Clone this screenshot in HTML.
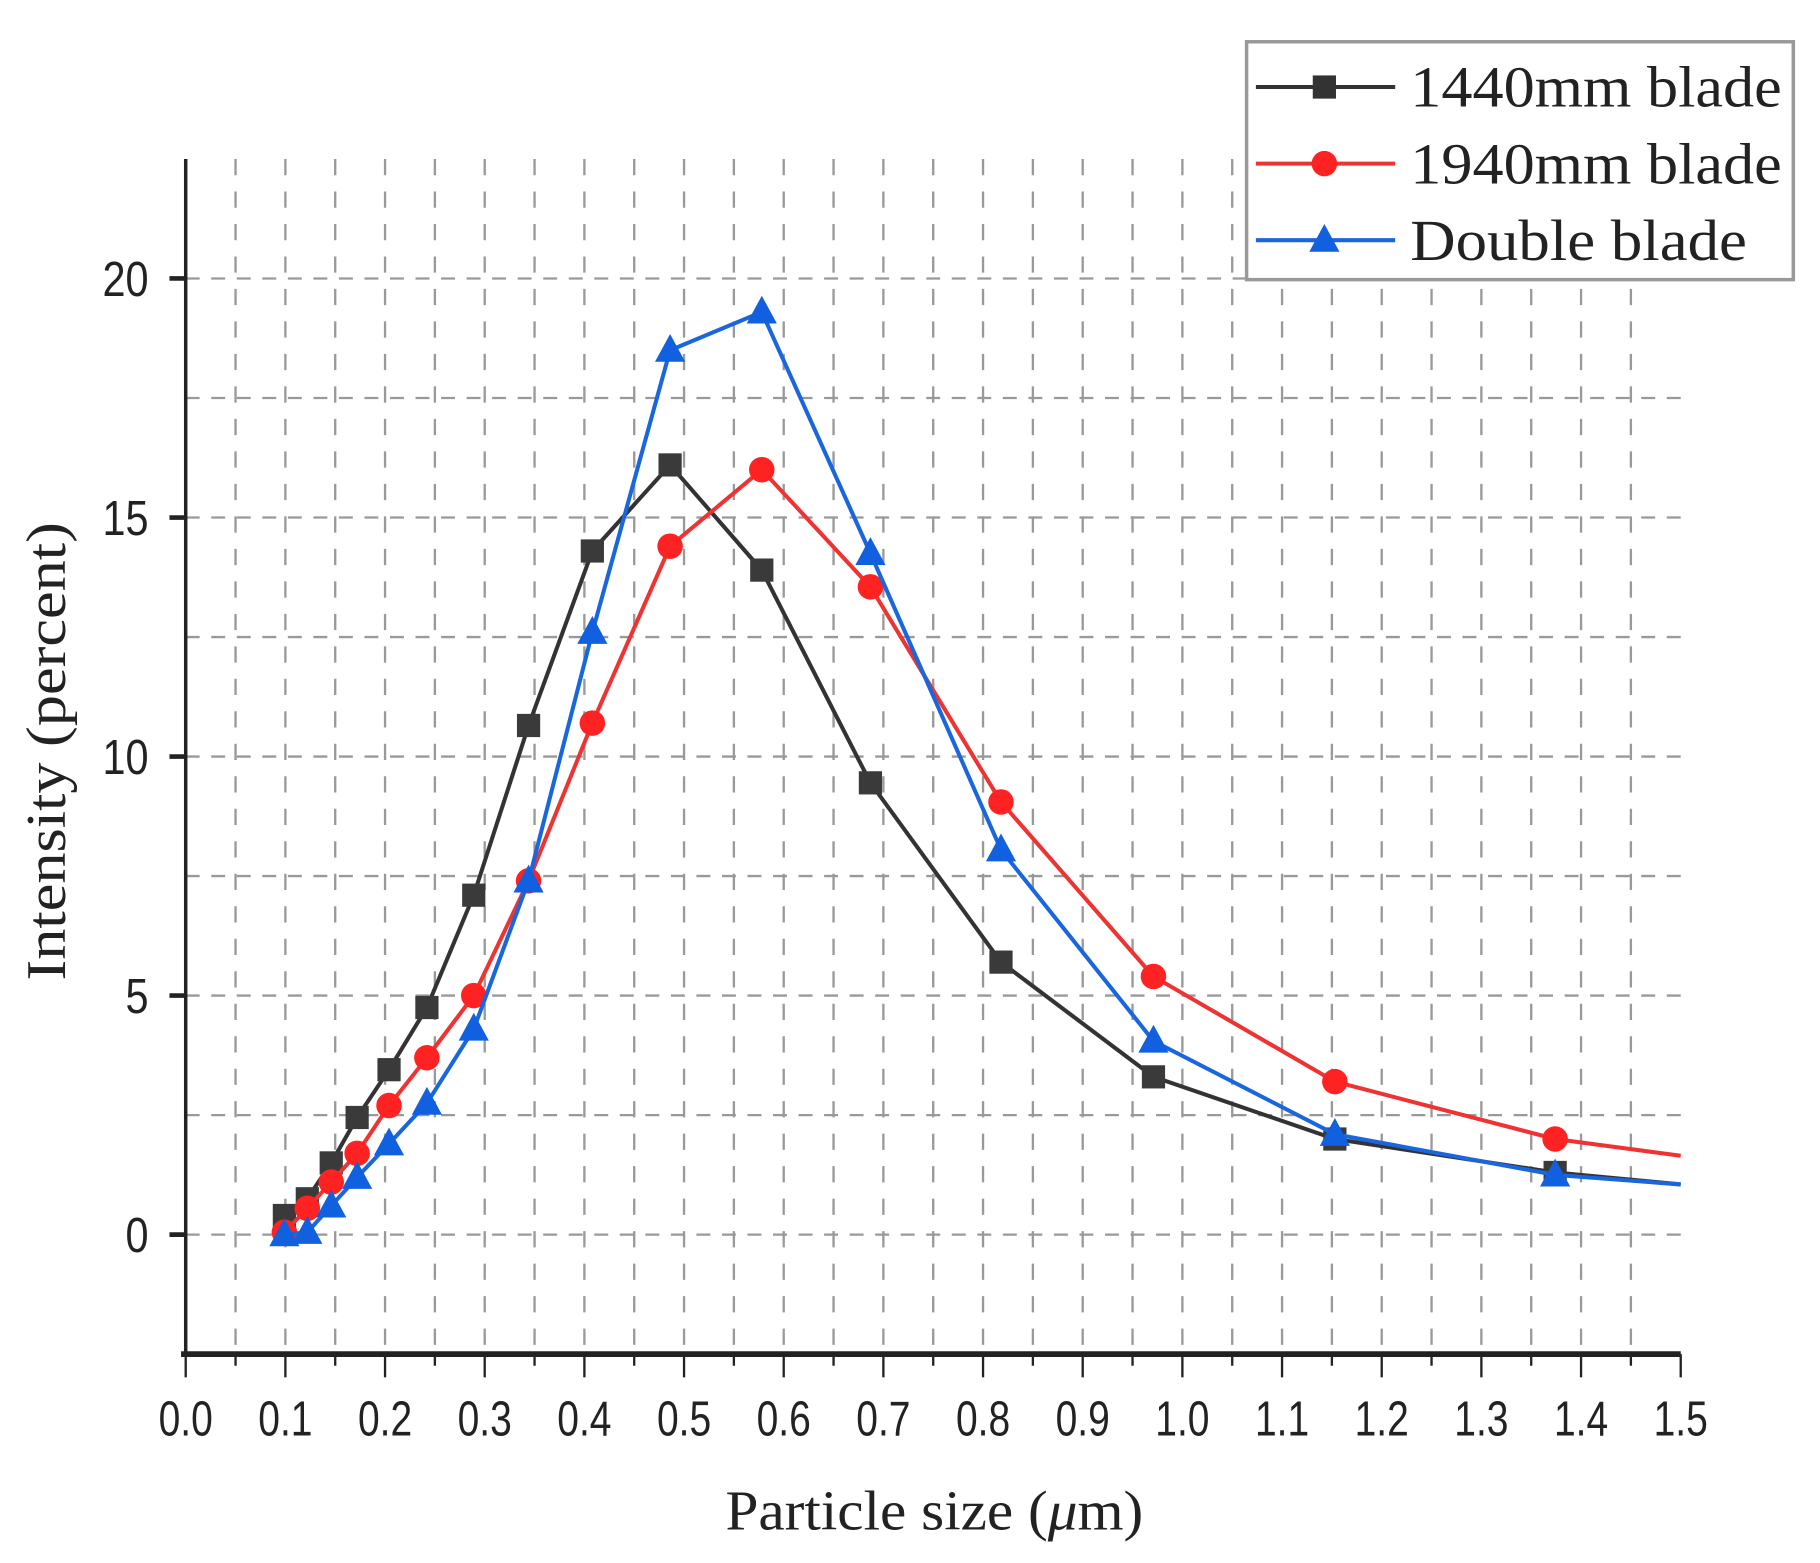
<!DOCTYPE html>
<html><head><meta charset="utf-8"><style>
html,body{margin:0;padding:0;background:#fff;width:1820px;height:1563px;overflow:hidden}
svg{display:block}
</style></head><body>
<svg id="chart" width="1820" height="1563" viewBox="0 0 1568 1347" preserveAspectRatio="none" xmlns="http://www.w3.org/2000/svg">
<g id="grid"></g>
<g id="axes"></g>
<g id="series"></g>
<text x="625" y="1318" textLength="360" lengthAdjust="spacingAndGlyphs" font-family="Liberation Serif, serif" font-size="48" fill="#222">Particle size (<tspan font-style="italic">μ</tspan>m)</text>
<text transform="translate(56,845) rotate(-90)" textLength="395" lengthAdjust="spacingAndGlyphs" font-family="Liberation Serif, serif" font-size="48" fill="#222">Intensity (percent)</text>
<g>
<rect x="1074" y="36" width="471" height="205" fill="#fff" stroke="#999" stroke-width="3"/>
<g>
<line x1="1082" y1="75" x2="1202" y2="75" stroke="#333" stroke-width="3.5"/>
<rect x="1131" y="65" width="20" height="20" fill="#333"/>
<text x="1215" y="92" textLength="320" lengthAdjust="spacingAndGlyphs" font-family="Liberation Serif, serif" font-size="50" fill="#222">1440mm blade</text></g>
<g>
<line x1="1082" y1="141" x2="1202" y2="141" stroke="#e33" stroke-width="3.5"/>
<circle cx="1141" cy="141" r="11" fill="#f22"/>
<text x="1215" y="158" textLength="320" lengthAdjust="spacingAndGlyphs" font-family="Liberation Serif, serif" font-size="50" fill="#222">1940mm blade</text></g>
<g>
<line x1="1082" y1="207" x2="1202" y2="207" stroke="#1a66dd" stroke-width="3.5"/>
<polygon points="1141,193 1154,217 1128,217" fill="#1060e0"/>
<text x="1215" y="224" textLength="290" lengthAdjust="spacingAndGlyphs" font-family="Liberation Serif, serif" font-size="50" fill="#222">Double blade</text></g>
</g>
</svg>
<script>
const xs = [0.099,0.122,0.146,0.172,0.204,0.242,0.289,0.344,0.408,0.486,0.578,0.687,0.818,0.971,1.153,1.374,1.5];
const s1440 = [0.4,0.75,1.5,2.45,3.45,4.75,7.1,10.65,14.3,16.1,13.9,9.45,5.7,3.3,2.0,1.3,1.05];
const s1940 = [0.05,0.55,1.1,1.7,2.7,3.7,5.0,7.4,10.7,14.4,16.0,13.55,9.05,5.4,3.2,2.0,1.65];
const sDouble = [0.0,0.05,0.6,1.2,1.9,2.75,4.3,7.4,12.6,18.5,19.3,14.25,8.05,4.05,2.1,1.25,1.05];
const xTicks = ["0.0","0.1","0.2","0.3","0.4","0.5","0.6","0.7","0.8","0.9","1.0","1.1","1.2","1.3","1.4","1.5"];
const yTicks = [0,5,10,15,20];

const NS="http://www.w3.org/2000/svg";
const X0=160,X1=1448,Y0=1064,YPU=41.2;
const sx=v=>X0+(v/1.5)*(X1-X0);
const sy=v=>Y0-v*YPU;
function mk(tag,attrs,parent){const e=document.createElementNS(NS,tag);for(const k in attrs)e.setAttribute(k,attrs[k]);parent.appendChild(e);return e;}
const grid=document.getElementById('grid'),axes=document.getElementById('axes'),ser=document.getElementById('series');
for(let i=1;i<30;i++){const x=sx(i*0.05);
 const l=mk('line',{x1:x,y1:sy(22.5),x2:x,y2:sy(-2.5),stroke:'#999','stroke-width':2,'stroke-dasharray':'14 14'},grid);
 
 }
for(let i=-1;i<=9;i++){if(i===9)continue;const y=sy(i*2.5);
 const l=mk('line',{x1:X0,y1:y,x2:X1,y2:y,stroke:'#999','stroke-width':2,'stroke-dasharray':'12 10'},grid);
 
 }
const ya=mk('line',{x1:X0,y1:sy(22.5),x2:X0,y2:sy(-2.5)+2,stroke:'#222','stroke-width':3},axes);


const xa=mk('line',{x1:X0-4,y1:sy(-2.5),x2:X1,y2:sy(-2.5),stroke:'#222','stroke-width':5},axes);


for(let i=0;i<=30;i++){const x=sx(i*0.05);mk('line',{x1:x,y1:sy(-2.5),x2:x,y2:sy(-2.5)+(i%2?10:20),stroke:'#222','stroke-width':2},axes);}
xTicks.forEach((t,i)=>{const e=mk('text',{x:sx(i*0.1),y:1237,'text-anchor':'middle','font-family':'Liberation Sans, sans-serif','font-size':42,fill:'#222',transform:`translate(${sx(i*0.1)},0) scale(0.8,1) translate(${-sx(i*0.1)},0)`},axes);e.textContent=t;
 
 });
yTicks.forEach(v=>{mk('line',{x1:X0-14,y1:sy(v),x2:X0,y2:sy(v),stroke:'#222','stroke-width':4},axes);
 const e=mk('text',{x:128,y:sy(v)+15,'text-anchor':'end','font-family':'Liberation Sans, sans-serif','font-size':42,fill:'#222',transform:`translate(128,0) scale(0.85,1) translate(-128,0)`},axes);e.textContent=v;
 
 });
function draw(vals,color,marker,name){
 const g=mk('g',{},ser);
 
 
 mk('polyline',{points:vals.map((v,i)=>sx(xs[i])+','+sy(v)).join(' '),fill:'none',stroke:color,'stroke-width':3.5},g);
 vals.forEach((v,i)=>{if(i===vals.length-1)return;const x=sx(xs[i]),y=sy(v);let m;
  if(marker==='sq')m=mk('rect',{x:x-10,y:y-10,width:20,height:20,fill:'#3a3a3a'},g);
  else if(marker==='c')m=mk('circle',{cx:x,cy:y,r:11,fill:'#f22'},g);
  else m=mk('polygon',{points:`${x},${y-14} ${x+13},${y+10} ${x-13},${y+10}`,fill:'#1060e0'},g);
  
  });
}
draw(s1440,'#333','sq','series-1440mm');
draw(s1940,'#e33','c','series-1940mm');
draw(sDouble,'#1a66dd','t','series-double');
</script>
</body></html>
